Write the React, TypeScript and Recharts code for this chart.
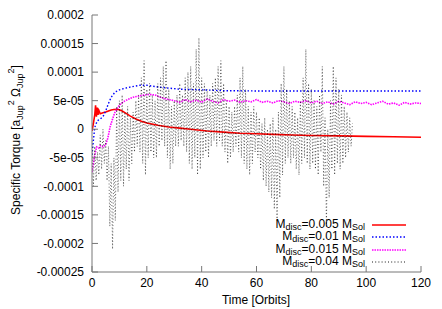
import { LineChart, Line, XAxis, YAxis, Legend } from 'recharts';

const FONT = '"Liberation Sans", Arial, Helvetica, sans-serif';

// torque values are in units of 1e-5 [a_Jup^2 Omega_Jup^2]
const xTicks = [0, 20, 40, 60, 80, 100, 120];
const yTicks = [20, 15, 10, 5, 0, -5, -10, -15, -20, -25];
const yTickLabels = ['0.0002', '0.00015', '0.0001', '5e-05', '0', '-5e-05', '-0.0001', '-0.00015', '-0.0002', '-0.00025'];

const redT = [0, 0.5, 1, 1.3, 1.6, 1.9, 2.2, 2.5, 3, 4, 5, 6, 7, 8, 9, 10, 11, 12, 14, 16, 18, 20, 24, 28, 32, 36, 42, 48, 54, 60, 66, 73, 80, 90, 100, 110, 120];
const redV = [-0.3, 1.0, 2.5, 4.2, 2.2, 3.8, 2.5, 3.3, 2.7, 2.9, 3.0, 3.2, 3.35, 3.45, 3.5, 3.4, 3.2, 2.9, 2.3, 1.8, 1.4, 1.1, 0.7, 0.4, 0.2, 0.0, -0.3, -0.5, -0.7, -0.8, -0.9, -1.0, -1.1, -1.17, -1.25, -1.32, -1.4];

const blueT = [0, 0.5, 1, 1.5, 2.3, 3, 4, 5, 6, 7, 8.4, 10, 11.5, 14, 17.5, 20, 24, 28, 32, 40, 48, 60, 80, 100, 120];
const blueV = [-4.5, -2, 0.3, 1.0, 1.6, 1.8, 2.2, 3.2, 4.5, 5.6, 6.5, 6.9, 7.1, 7.4, 7.7, 7.7, 7.4, 7.2, 7.0, 6.9, 6.75, 6.7, 6.7, 6.7, 6.7];

const magentaT = [0, 0.5, 1, 1.7, 2.5, 3, 4, 5, 5.8, 6.6, 7.5, 8.4, 10, 11.4, 13, 15, 18, 21, 23, 25, 27,
  30, 32, 34, 36, 38, 40, 42, 44, 46, 48, 50, 52, 54, 56, 58, 60, 62, 64, 66, 68, 70, 72, 74, 76, 78,
  80, 82, 84, 86, 88, 90, 92, 94, 96, 98, 100, 102, 104, 106, 108, 110, 112, 114, 116, 118, 120];
const magentaV = [-7.5, -6, -4.5, -3.1, -3.3, -2.9, -3.1, -2.7, -1.5, 0.4, 1.8, 3.0, 4.2, 4.8, 5.2, 5.6, 5.9, 6.1, 6.0, 5.6, 5.3,
  5.0, 4.7, 5.2, 4.8, 5.1, 4.7, 5.3, 4.9, 4.6, 5.2, 4.9, 5.1, 4.7, 5.0, 4.8, 5.2, 4.7, 4.9, 4.6, 5.0, 4.8, 4.5, 4.9, 4.7, 5.0,
  4.6, 4.9, 4.5, 4.8, 4.4, 4.9, 4.6, 4.3, 4.8, 4.5, 4.7, 4.3, 4.6, 4.9, 4.4, 4.6, 4.2, 4.7, 4.4, 4.6, 4.5];

// sampled every half orbit from t = 0 to 95
const blackV = [
  -2, -10, -3, -9, -4, -8, -1, -7, 0, -6,
  -2, -9, -3, -17, -6, -21, -5, -16, 4, -11,
  5, -9, 6, -10, 3, -7, 4, -9, 2, -6,
  3, -4, 5, -3, 6, -4, 9, -6, 12, -8,
  7, -5, 8, -4, 6, -5, 5, -5, 8, -3,
  9, -2, 11, -3, 12, -5, 7, -7, 4, -6,
  5, -3, 6, -3, 8, -2, 6, -3, 9, -4,
  10, -6, 11, -7, 8, -5, 14, -8, 16, -7,
  9, -5, 8, -4, 7, -5, 6, -3, 8, -2,
  9, -3, 11, -2, 12, -3, 8, -4, 5, -6,
  4, -5, 3, -4, 4, -3, 6, -4, 9, -5,
  11, -6, 7, -7, 4, -8, 3, -6, 4, -4,
  3, -5, 2, -7, 1, -9, 2, -10, 0, -11,
  1, -12, 2, -14, 0, -16, 3, -12, 8, -8,
  11, -6, 7, -5, 5, -6, 4, -5, 3, -7,
  2, -8, 5, -6, 9, -5, 14, -6, 8, -7,
  7, -6, 5, -7, 4, -8, 6, -4, 11, -10,
  2, -17, 0, -12, 5, -7, 11, -8, 9, -6,
  7, -7, 6, -6, 4, -5, 3, -4, 2, -3,
  1,
];
const blackT = blackV.map((_, i) => i * 0.5);

const toRows = (t: number[], v: number[]) => t.map((x, i) => ({ t: x, v: v[i] }));

const series = [
  { name: '0.005', color: '#ff0000', width: 1.6, dash: undefined as string | undefined, data: toRows(redT, redV) },
  { name: '0.01', color: '#0000ff', width: 1.4, dash: '1.5 2', data: toRows(blueT, blueV) },
  { name: '0.015', color: '#ff00ff', width: 1.6, dash: '1.5 1', data: toRows(magentaT, magentaV) },
  { name: '0.04', color: '#000000', width: 0.6, dash: '1 2.2', data: toRows(blackT, blackV) },
];

const sub = { fontSize: 9, position: 'relative' as const, top: 2 };

const LegendBox = () => (
  <div style={{ fontFamily: FONT, fontSize: 12, color: '#000' }}>
    {series.map((s) => (
      <div key={s.name} style={{ display: 'flex', justifyContent: 'flex-end', alignItems: 'center', height: 12.3, lineHeight: '11px' }}>
        <span style={{ whiteSpace: 'nowrap' }}>
          M<span style={sub}>disc</span>={s.name} M<span style={sub}>Sol</span>
        </span>
        <svg width={34} height={6} style={{ marginLeft: 7 }}>
          <line x1={0} y1={3} x2={34} y2={3} stroke={s.color} strokeWidth={s.width < 1 ? 0.9 : s.width} strokeDasharray={s.dash} />
        </svg>
      </div>
    ))}
  </div>
);

const YTitle = () => (
  <text transform="translate(20,140) rotate(-90)" textAnchor="middle" fontFamily={FONT} fontSize={12} fill="#000">
    Specific Torque [a<tspan fontSize={9} dy={3}>Jup</tspan>
    <tspan fontSize={9} dy={-9}>2</tspan>
    <tspan dy={6}> Ω</tspan>
    <tspan fontSize={9} dy={3}>Jup</tspan>
    <tspan fontSize={9} dy={-9}>2</tspan>
    <tspan dy={6}>]</tspan>
  </text>
);

const XTitle = () => (
  <text x={256} y={304} textAnchor="middle" fontFamily={FONT} fontSize={12} fill="#000">
    Time [Orbits]
  </text>
);

const tickStyle = { fontFamily: FONT, fontSize: 12, fill: '#000' };
const axisColor = '#777';

export default function App() {
  return (
    <div style={{ position: 'fixed', left: 0, top: 0, background: '#fff' }}>
      <LineChart width={442} height={309} margin={{ top: 15, right: 21, bottom: 0, left: 0 }}>
        <XAxis
          xAxisId="b"
          type="number"
          dataKey="t"
          domain={[0, 120]}
          ticks={xTicks}
          allowDataOverflow
          height={37}
          tickSize={-6}
          tickMargin={12}
          tick={tickStyle}
          stroke={axisColor}
          label={<XTitle />}
        />
        <XAxis
          xAxisId="top"
          orientation="top"
          type="number"
          dataKey="t"
          domain={[0, 120]}
          ticks={xTicks}
          height={0}
          tickSize={-6}
          tick={false}
          stroke={axisColor}
        />
        <YAxis
          yAxisId="l"
          type="number"
          domain={[-25, 20]}
          ticks={yTicks}
          allowDataOverflow
          width={92}
          tickSize={-6}
          tickMargin={14}
          tick={tickStyle}
          tickFormatter={(v: number) => yTickLabels[yTicks.indexOf(v)] ?? ''}
          stroke={axisColor}
          label={<YTitle />}
        />
        <YAxis
          yAxisId="r"
          orientation="right"
          type="number"
          domain={[-25, 20]}
          ticks={yTicks}
          width={0}
          tickSize={-6}
          tick={false}
          stroke={axisColor}
        />
        <Legend
          layout="vertical"
          align="center"
          verticalAlign="middle"
          content={<LegendBox />}
          wrapperStyle={{ position: 'absolute', left: 199, top: 219, width: 207, height: 50 }}
        />
        {series.map((s) => (
          <Line
            key={s.name}
            xAxisId="b"
            yAxisId="l"
            data={s.data}
            dataKey="v"
            type="linear"
            stroke={s.color}
            strokeWidth={s.width}
            strokeDasharray={s.dash}
            dot={false}
            isAnimationActive={false}
          />
        ))}
      </LineChart>
    </div>
  );
}
